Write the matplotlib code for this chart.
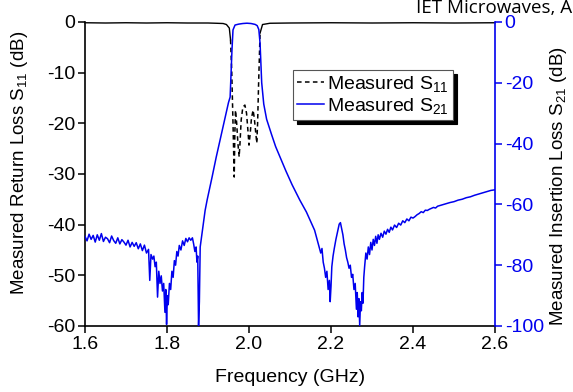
import matplotlib
matplotlib.use("Agg")
import matplotlib.pyplot as plt
import numpy as np

plt.rcParams['font.family'] = ['Liberation Sans', 'DejaVu Sans']
plt.rcParams['mathtext.default'] = 'regular'
plt.rcParams['axes.unicode_minus'] = False

# ---------------- data ----------------
# Measured S21 (right axis, dB)
f21 = [1.600, 1.605, 1.610, 1.615, 1.620, 1.625, 1.630, 1.635, 1.640, 1.645,
       1.650, 1.655, 1.660, 1.665, 1.670, 1.675, 1.680, 1.685, 1.690, 1.695,
       1.700, 1.705, 1.710, 1.715, 1.720, 1.725, 1.730, 1.735, 1.740, 1.745,
       1.750, 1.755, 1.758, 1.761, 1.765, 1.768, 1.771, 1.774, 1.777, 1.780,
       1.783, 1.786, 1.789, 1.792, 1.795, 1.797, 1.799, 1.801, 1.803, 1.806,
       1.809, 1.812, 1.815, 1.818, 1.821, 1.824, 1.827, 1.830, 1.834, 1.838,
       1.842, 1.846, 1.850, 1.854, 1.858, 1.862, 1.865, 1.868, 1.871, 1.873,
       1.875, 1.877, 1.879, 1.881, 1.884, 1.888, 1.893, 1.898, 1.910, 1.920,
       1.930, 1.940, 1.950, 1.954, 1.9585, 1.961, 1.966, 1.975, 1.985, 1.995,
       2.005, 2.015, 2.020, 2.024, 2.027, 2.031, 2.036, 2.043, 2.055, 2.065,
       2.076, 2.090, 2.105, 2.124, 2.140, 2.150, 2.160, 2.165, 2.170, 2.175,
       2.178, 2.181, 2.184, 2.187, 2.190, 2.193, 2.196, 2.198, 2.200, 2.202,
       2.205, 2.208, 2.212, 2.216, 2.220, 2.223, 2.226, 2.229, 2.232, 2.235,
       2.238, 2.241, 2.244, 2.247, 2.250, 2.253, 2.256, 2.259, 2.262, 2.264,
       2.266, 2.268, 2.270, 2.272, 2.274, 2.276, 2.278, 2.280, 2.282, 2.285,
       2.288, 2.291, 2.294, 2.297, 2.300, 2.303, 2.306, 2.309, 2.312, 2.315,
       2.318, 2.322, 2.326, 2.330, 2.334, 2.338, 2.342, 2.346, 2.350, 2.355,
       2.360, 2.365, 2.370, 2.375, 2.380, 2.385, 2.390, 2.395, 2.400, 2.405,
       2.410, 2.415, 2.420, 2.425, 2.430, 2.435, 2.440, 2.450, 2.455, 2.460,
       2.470, 2.480, 2.490, 2.500, 2.510, 2.520, 2.530, 2.540, 2.550, 2.560,
       2.570, 2.580, 2.590, 2.600]
s21 = [-70.5, -72.0, -69.8, -71.5, -70.2, -72.4, -70.0, -71.8, -69.6, -72.2,
       -70.8, -71.3, -72.6, -70.4, -71.9, -72.8, -71.0, -73.0, -71.6, -72.4,
       -73.4, -71.8, -74.0, -72.5, -73.8, -72.6, -74.6, -73.0, -75.2, -73.4,
       -76.0, -74.8, -85.0, -76.5, -78.0, -77.0, -80.5, -79.0, -90.5, -82.0,
       -86.0, -83.5, -88.5, -86.0, -95.5, -88.0, -99.5, -90.0, -93.0, -86.0,
       -88.0, -82.0, -84.0, -78.5, -80.0, -75.5, -77.0, -73.5, -75.0, -72.0,
       -73.5, -71.2, -72.3, -71.0, -71.8, -71.0, -73.0, -75.5, -74.0, -79.0,
       -77.0, -100.0, -92.0, -74.0, -71.0, -67.0, -62.0, -58.5, -51.0, -44.5,
       -38.5, -32.5, -26.5, -24.7, -9.2, -2.6, -1.0, -0.7, -0.5, -0.4,
       -0.5, -0.8, -1.2, -2.5, -7.0, -20.0, -27.0, -32.0, -37.0, -41.0,
       -44.5, -49.0, -53.5, -58.6, -62.5, -65.5, -68.5, -71.0, -73.5, -76.0,
       -74.5, -79.0, -81.0, -84.0, -82.0, -88.0, -85.0, -92.0, -87.0, -80.5,
       -77.0, -74.5, -71.5, -69.0, -66.5, -66.0, -68.0, -70.0, -73.0, -75.0,
       -77.5, -79.0, -81.0, -80.0, -84.0, -83.0, -88.0, -86.0, -94.5, -89.0,
       -97.0, -91.0, -99.8, -92.0, -95.0, -89.0, -92.5, -84.0, -80.5, -76.0,
       -78.0, -74.0, -76.5, -72.5, -75.0, -71.5, -73.5, -70.5, -72.8, -70.0,
       -71.5, -69.5, -70.8, -68.8, -69.8, -68.2, -69.2, -67.5, -68.4, -66.8,
       -67.6, -66.2, -66.8, -65.4, -66.0, -64.8, -65.4, -64.2, -64.5, -64.0,
       -63.4, -63.0, -62.4, -62.7, -61.9, -62.0, -61.6, -61.0, -61.2, -60.6,
       -60.2, -59.8, -59.4, -59.1, -58.6, -58.3, -57.8, -57.5, -57.0, -56.6,
       -56.2, -55.8, -55.4, -55.2]

# Measured S11 (left axis, dB)
f11 = [1.600, 1.650, 1.700, 1.750, 1.800, 1.850, 1.900, 1.920, 1.937, 1.945,
       1.952, 1.955,
       1.958, 1.961, 1.964, 1.9655, 1.967, 1.970, 1.973, 1.976, 1.978, 1.981,
       1.985, 1.990, 1.994, 1.997, 2.000, 2.003, 2.006, 2.010, 2.013, 2.016,
       2.019, 2.021, 2.0235, 2.027,
       2.033, 2.051, 2.100, 2.200, 2.300, 2.400, 2.500, 2.600]
s11 = [-0.15, -0.2, -0.15, -0.2, -0.15, -0.2, -0.2, -0.25, -0.3, -0.5,
       -1.2, -3.5,
       -10.0, -20.0, -30.6, -22.0, -17.4, -20.0, -24.0, -26.6, -24.0, -19.3,
       -16.8, -16.4, -18.0, -21.0, -24.3, -22.0, -19.0, -17.4, -19.0, -21.5,
       -23.9, -20.0, -12.0, -2.2,
       -0.5, -0.25, -0.2, -0.15, -0.2, -0.15, -0.2, -0.15]
pass_lo, pass_hi = 11, 35   # indices where the dashed (in-band) part starts/ends

BLUE = '#0000ee'

fig = plt.figure(figsize=(5.73, 3.92), dpi=100)
fig.subplots_adjust(left=0.1483, right=0.8639, top=0.9439, bottom=0.1684)
ax = fig.add_subplot(111)
ax2 = ax.twinx()

# S11 on left axis
ax.plot(f11[:pass_lo + 1], s11[:pass_lo + 1], color='black', lw=1.0, clip_on=False)
ax.plot(f11[pass_hi:], s11[pass_hi:], color='black', lw=1.0, clip_on=False)
l11, = ax.plot(f11[pass_lo:pass_hi + 1], s11[pass_lo:pass_hi + 1], color='black',
               lw=1.1, dashes=(3, 2.2), label='Measured S$_{11}$')

# S21 on right axis
l21, = ax2.plot(f21, s21, color=BLUE, lw=1.1, label='Measured S$_{21}$')

ax.set_xlim(1.6, 2.6)
ax.set_ylim(-60, 0)
ax2.set_ylim(-100, 0)
ax.set_xticks([1.6, 1.8, 2.0, 2.2, 2.4, 2.6])
ax.set_xticklabels(['1.6', '1.8', '2.0', '2.2', '2.4', '2.6'])
ax.set_yticks([0, -10, -20, -30, -40, -50, -60])
ax.set_yticklabels(['0', '-10', '-20', '-30', '-40', '-50', '-60'])
ax2.set_yticks([0, -20, -40, -60, -80, -100])
ax2.set_yticklabels(['0', '-20', '-40', '-60', '-80', '-100'])

for a in (ax, ax2):
    a.spines['top'].set_visible(False)
ax.spines['right'].set_visible(False)
ax2.spines['left'].set_visible(False)
ax2.spines['bottom'].set_visible(False)
ax2.spines['right'].set_color(BLUE)
for s in ('left', 'bottom'):
    ax.spines[s].set_linewidth(1.2)
ax2.spines['right'].set_linewidth(1.2)

ax.tick_params(axis='both', direction='out', length=5, width=1.1, labelsize=14, pad=2)
ax2.tick_params(axis='y', direction='out', length=5, width=1.1, labelsize=14, pad=2,
                colors=BLUE)

ax.set_xlabel('Frequency (GHz)', fontsize=14, labelpad=12)
ax.set_ylabel('Measured Return Loss S$_{11}$ (dB)', fontsize=13.5)
ax2.set_ylabel('Measured Insertion Loss S$_{21}$ (dB)', fontsize=13.5, color='black')
ax.yaxis.set_label_coords(-0.133, 0.535)
ax2.yaxis.set_label_coords(1.13, 0.46)

leg = ax2.legend(handles=[l11, l21], loc='upper left', bbox_to_anchor=(0.507, 0.842),
                 fontsize=14, frameon=True, fancybox=False,
                 shadow={'color': 'black', 'alpha': 1.0, 'ox': 3, 'oy': -3},
                 handlelength=1.4, handletextpad=0.15, borderpad=0.2,
                 labelspacing=0.1, borderaxespad=0)
leg.get_frame().set_edgecolor('#555555')
leg.get_frame().set_linewidth(0.8)

fig.text(572 / 573, 1 - 13 / 392, 'IET Microwaves, A',
         family='Open Sans', fontsize=13.5, ha='right', va='baseline')

fig.savefig('out.png', dpi=100)
